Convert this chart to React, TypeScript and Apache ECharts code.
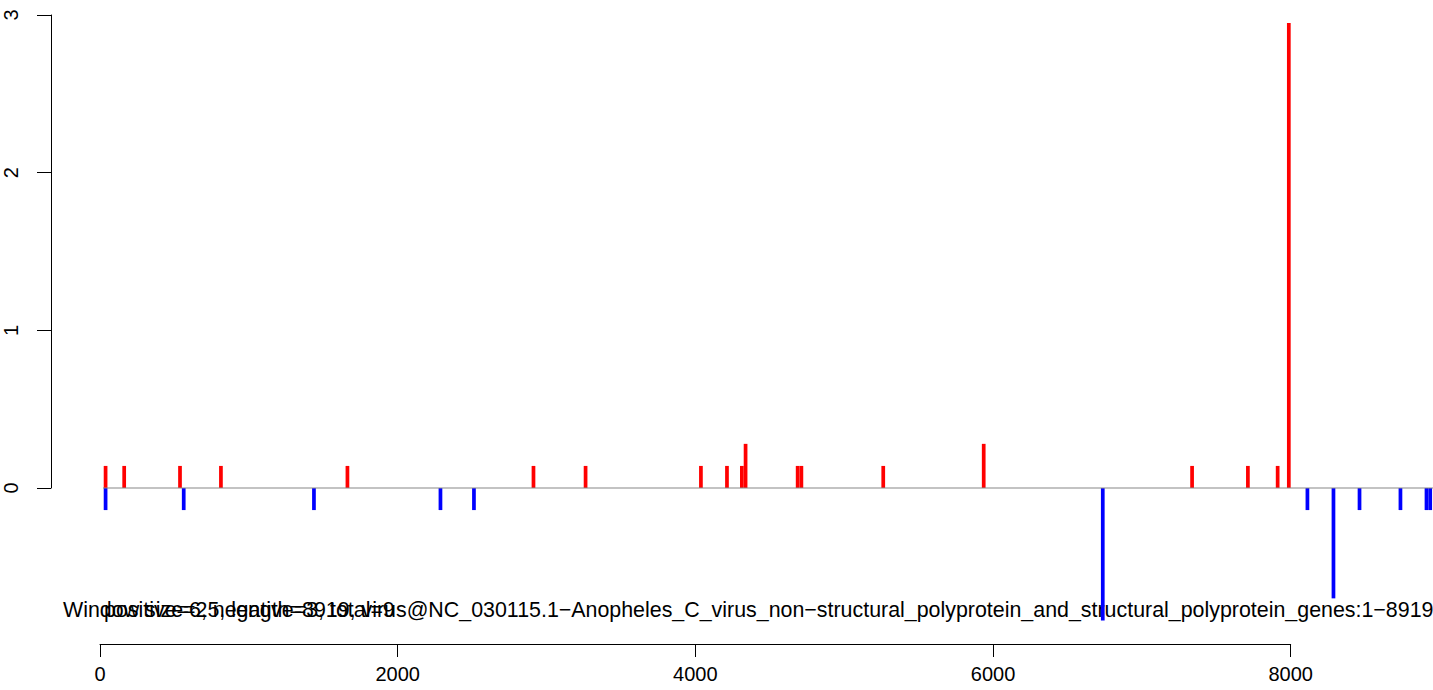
import React, { useEffect, useRef } from "react";
import * as echarts from "echarts";

const BIN_WIDTH = 25;
const posStarts = [25, 150, 525, 800, 1650, 2900, 3250, 4025, 4200, 4300, 4325, 4675, 4700, 5250, 5925, 7325, 7700, 7900, 7975];
const posValues = [0.14, 0.14, 0.14, 0.14, 0.14, 0.14, 0.14, 0.14, 0.14, 0.14, 0.28, 0.14, 0.14, 0.14, 0.28, 0.14, 0.14, 0.14, 2.95];
const negStarts = [25, 550, 1425, 2275, 2500, 6725, 8100, 8275, 8450, 8725, 8900, 8925];
const negValues = [-0.14, -0.14, -0.14, -0.14, -0.14, -0.84, -0.14, -0.7, -0.14, -0.14, -0.14, -0.14];
const yTicks = [0, 1, 2, 3];
const xTicks = [0, 2000, 4000, 6000, 8000];
const captionMain = "Window size=25, length=8919, virus@NC_030115.1\u2212Anopheles_C_virus_non\u2212structural_polyprotein_and_structural_polyprotein_genes:1\u22128919";
const captionCounts = "positive=6, negative=3, total=9";

const FONT = "'Liberation Sans', Arial, Helvetica, sans-serif";

export default function App() {
  const ref = useRef<HTMLDivElement>(null);
  useEffect(() => {
    if (!ref.current) return;
    const chart = echarts.init(ref.current, undefined, { renderer: "svg" });
    const renderBar = (params: any, api: any) => {
      const x = api.value(0);
      const y = api.value(1);
      const p0 = api.coord([x, 0]);
      const p1 = api.coord([x + BIN_WIDTH, y]);
      return {
        type: "rect",
        shape: { x: p0[0], y: Math.min(p0[1], p1[1]), width: p1[0] - p0[0], height: Math.abs(p1[1] - p0[1]) },
        style: { fill: api.visual("color") },
      };
    };
    const xMaxData = 1333 / 0.148835;
    const option: any = {
      animation: false,
      backgroundColor: "#ffffff",
      textStyle: { fontFamily: FONT },
      grid: [
        { left: 100, top: 15, width: 1333, height: 3.9 * (473 / 3) },
        { left: 51, top: 15, width: 10, height: 473 },
        { left: 100, top: 600, width: 8000 * 0.148835, height: 44 },
      ],
      xAxis: [
        { type: "value", gridIndex: 0, min: 0, max: xMaxData, show: false },
        { type: "value", gridIndex: 1, min: 0, max: 1, show: false },
        {
          type: "value", gridIndex: 2, min: 0, max: 8000, interval: 2000, position: "bottom",
          axisLine: { show: true, lineStyle: { color: "#000", width: 1 } },
          axisTick: { show: true, length: 13, lineStyle: { color: "#000", width: 1 } },
          axisLabel: { show: true, color: "#000", fontSize: 20, fontFamily: FONT, margin: 20,
            formatter: (v: number) => (xTicks.indexOf(v) >= 0 ? String(v) : "") },
          splitLine: { show: false },
        },
      ],
      yAxis: [
        { type: "value", gridIndex: 0, min: -0.9, max: 3, show: false },
        {
          type: "value", gridIndex: 1, min: 0, max: 3, interval: 1, position: "left",
          axisLine: { show: true, lineStyle: { color: "#000", width: 1 } },
          axisTick: { show: true, length: 14, lineStyle: { color: "#000", width: 1 } },
          axisLabel: { show: true, color: "#000", fontSize: 20, fontFamily: FONT, rotate: 90, margin: 30,
            formatter: (v: number) => (yTicks.indexOf(v) >= 0 ? String(v) : "") },
          splitLine: { show: false },
        },
        { type: "value", gridIndex: 2, min: 0, max: 1, show: false },
      ],
      series: [
        {
          type: "line", xAxisIndex: 0, yAxisIndex: 0,
          data: [[20, 0], [xMaxData, 0]],
          symbol: "none", lineStyle: { color: "#888888", width: 1.2 }, silent: true,
        },
        {
          type: "custom", name: "positive", xAxisIndex: 0, yAxisIndex: 0,
          itemStyle: { color: "#ff0000" },
          data: posStarts.map((s, i) => [s, posValues[i]]),
          renderItem: renderBar,
        },
        {
          type: "custom", name: "negative", xAxisIndex: 0, yAxisIndex: 0,
          itemStyle: { color: "#0000ff" },
          data: negStarts.map((s, i) => [s, negValues[i]]),
          renderItem: renderBar,
        },
        { type: "line", xAxisIndex: 1, yAxisIndex: 1, data: [], silent: true },
        { type: "line", xAxisIndex: 2, yAxisIndex: 2, data: [], silent: true },
      ],
      graphic: [
        {
          type: "text", left: 63, top: 599, silent: true,
          style: { text: captionMain, fill: "#000", font: `21.4px ${FONT}` },
        },
        {
          type: "text", left: 104, top: 599, silent: true,
          style: { text: captionCounts, fill: "#000", font: `21.4px ${FONT}` },
        },
      ],
    };
    chart.setOption(option);
    return () => chart.dispose();
  }, []);
  return (
    <div
      ref={ref}
      style={{ position: "fixed", left: 0, top: 0, width: 1433, height: 690, background: "#fff" }}
    />
  );
}
